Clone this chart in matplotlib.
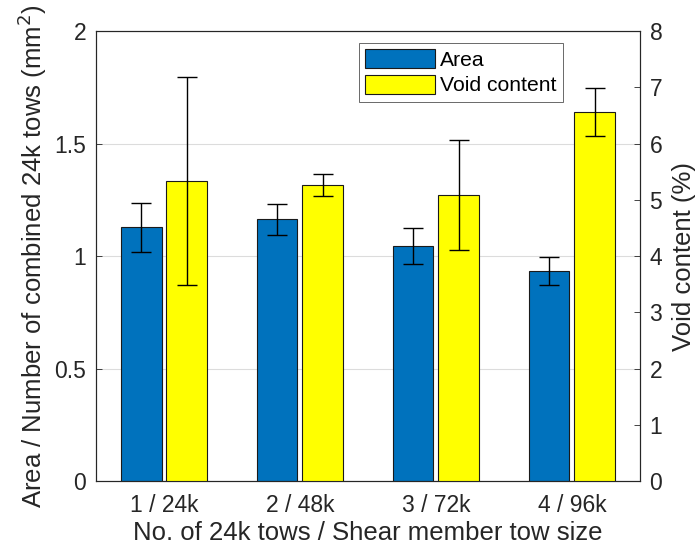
import matplotlib
matplotlib.use("Agg")
import matplotlib.pyplot as plt
import numpy as np

plt.rcParams['font.family'] = ['Liberation Sans', 'DejaVu Sans']

categories = ['1 / 24k', '2 / 48k', '3 / 72k', '4 / 96k']
area = [1.127, 1.163, 1.043, 0.935]
area_err = [0.110, 0.069, 0.080, 0.062]
void = [5.33, 5.26, 5.09, 6.56]
void_err = [1.85, 0.19, 0.977, 0.42]

fig = plt.figure(figsize=(7, 5.52), dpi=100)
ax = fig.add_axes([0.137, 0.1286, 0.777, 0.8152])
ax2 = ax.twinx()

x = np.arange(1, len(categories) + 1)
w = 0.30
off = 0.1675
edge = '#1a1a1a'
ax.set_zorder(1)
ax2.set_zorder(2)
ax.patch.set_visible(True)
ax2.patch.set_visible(False)

b1 = ax.bar(x - off, area, w, color='#0072BD', edgecolor=edge, linewidth=0.8, zorder=3)
ax.errorbar(x - off, area, yerr=area_err, fmt='none', ecolor='black', elinewidth=1.0,
            capsize=7, capthick=1.0, zorder=4)
b2 = ax2.bar(x + off, void, w, color='#FFFF00', edgecolor=edge, linewidth=0.8, zorder=3)
ax2.errorbar(x + off, void, yerr=void_err, fmt='none', ecolor='black', elinewidth=1.0,
             capsize=7, capthick=1.0, zorder=4)

ax.set_xlim(0.5, 4.5)
ax.set_ylim(0, 2)
ax2.set_ylim(0, 8)
ax.set_xticks(x)
ax.set_xticklabels(categories)
ax.set_yticks([0, 0.5, 1, 1.5, 2])
ax.set_yticklabels(['0', '0.5', '1', '1.5', '2'])
ax2.set_yticks(range(0, 9))
ax.grid(axis='y', color='#dcdcdc', linewidth=0.8, zorder=0)
ax.set_axisbelow(True)

for a in (ax, ax2):
    a.tick_params(direction='in', labelsize=16.5, colors='#262626', length=4, width=0.6, pad=7)
    for s in a.spines.values():
        s.set_color('#262626')
        s.set_linewidth(0.8)
ax.tick_params(axis='x', length=0, pad=9)
ax.tick_params(axis='y', right=False)

ax.set_xlabel('No. of 24k tows / Shear member tow size', fontsize=18.5, color='#262626', labelpad=3)
ax.set_ylabel('Area / Number of combined 24k tows (mm$^2$)', fontsize=18.5, color='#262626', labelpad=4)
ax2.set_ylabel('Void content (%)', fontsize=18.5, color='#262626', labelpad=7)

leg = ax2.legend([b1, b2], ['Area', 'Void content'], loc='upper left',
                 bbox_to_anchor=((359 - 96) / 544, (481 - 43) / 450), fontsize=15.2, frameon=True,
                 fancybox=False, edgecolor='#262626', handlelength=3.3, handleheight=1.0,
                 borderpad=0.3, labelspacing=0.22, handletextpad=0.25, borderaxespad=0)
leg.get_frame().set_linewidth(0.6)

fig.savefig('out.png', dpi=100)
